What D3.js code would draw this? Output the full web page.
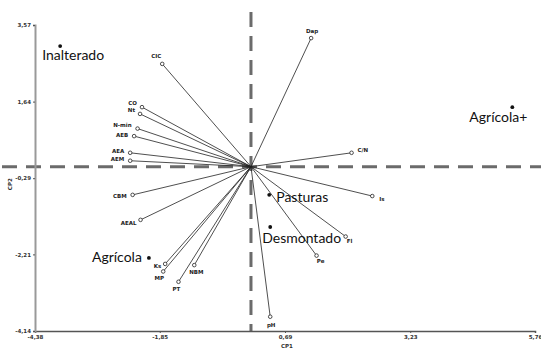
<!DOCTYPE html>
<html>
<head>
<meta charset="utf-8">
<script src="https://cdn.jsdelivr.net/npm/d3@7"></script>
<style>
  html, body { margin: 0; padding: 0; background: #fff; }
  svg { display: block; }
</style>
</head>
<body>
<svg id="chart" width="541" height="350"></svg>
<script>
// Biplot: soil variables (vectors) and land-use groups (scores) on CP1 x CP2.
const xTicks = [-4.38, -1.85, 0.69, 3.23, 5.76];
const yTicks = [-4.14, -2.21, -0.29, 1.64, 3.57];

// Variable loadings (vector tips)
const varNames = ["Dap", "CIC", "CO", "Nt", "N-min", "AEB", "AEA", "AEM", "C/N", "Is",
                  "CBM", "AEAL", "Ks", "MP", "PT", "NBM", "Fl", "Pe", "pH"];
const varCP1 = [1.22, -1.80, -2.21, -2.25, -2.30, -2.37, -2.45, -2.45, 2.04, 2.46,
                -2.40, -2.24, -1.74, -1.78, -1.47, -1.15, 1.92, 1.33, 0.39];
const varCP2 = [3.24, 2.59, 1.50, 1.33, 0.96, 0.77, 0.35, 0.15, 0.35, -0.74,
                -0.71, -1.34, -2.45, -2.64, -2.90, -2.48, -1.76, -2.24, -3.78];

// Group scores
const groupNames = ["Inalterado", "Agrícola+", "Pasturas", "Desmontado", "Agrícola"];
const groupCP1 = [-3.87, 5.30, 0.37, 0.39, -2.07];
const groupCP2 = [3.04, 1.50, -0.71, -1.52, -2.30];

// Label placement around each mark: [dx, dy, anchor]
const varLabelPos = {
  "Dap": [1, -7, "middle"], "CIC": [-6, -7, "middle"], "CO": [-5, -4, "end"],
  "Nt": [-5, -3, "end"], "N-min": [-6, -3, "end"], "AEB": [-6, -1, "end"],
  "AEA": [-6, -1, "end"], "AEM": [-6, -1, "end"], "C/N": [6, -2, "start"],
  "Is": [7, 3, "start"], "CBM": [-6, 2, "end"], "AEAL": [-4, 4, "end"],
  "Ks": [-4, 3, "end"], "MP": [-4, 7, "middle"], "PT": [-2, 8, "middle"],
  "NBM": [2, 7, "middle"], "Fl": [4, 5, "middle"], "Pe": [4, 6, "middle"],
  "pH": [1, 9, "middle"]
};
const groupLabelPos = {
  "Inalterado": [-18, 10, "start"], "Agrícola+": [-43, 11, "start"],
  "Pasturas": [7, 4, "start"], "Desmontado": [-8, 12, "start"],
  "Agrícola": [-7, 0, "end"]
};

const svg = d3.select("#chart");
const x = d3.scaleLinear().domain([-4.38, 5.76]).range([35, 535]);
const y = d3.scaleLinear().domain([-4.14, 3.57]).range([331, 25]);
const fmt = d => d.toFixed(2).replace(".", ",");

// Reference lines through the origin
svg.append("line")
  .attr("x1", 2).attr("x2", 541).attr("y1", y(0)).attr("y2", y(0))
  .attr("stroke", "#6b6b6b").attr("stroke-width", 3).attr("stroke-dasharray", "15,9");
svg.append("line")
  .attr("x1", x(0)).attr("x2", x(0)).attr("y1", 12).attr("y2", y(-4.14))
  .attr("stroke", "#6b6b6b").attr("stroke-width", 3).attr("stroke-dasharray", "15,9");

// Axes
const xAxis = svg.append("g").attr("transform", `translate(0,${y(-4.14)})`)
  .call(d3.axisBottom(x).tickValues(xTicks).tickFormat(fmt).tickSize(2).tickPadding(2));
const yAxis = svg.append("g").attr("transform", `translate(${x(-4.38)},0)`)
  .call(d3.axisLeft(y).tickValues(yTicks).tickFormat(fmt).tickSize(2).tickPadding(2));
xAxis.select(".domain").attr("stroke", "#555").attr("stroke-width", 1.5);
yAxis.select(".domain").attr("stroke", "#999").attr("stroke-width", 2);
svg.selectAll(".tick line").attr("stroke", "#555");
svg.selectAll(".tick text")
  .attr("font-family", "DejaVu Sans").attr("font-size", 5.5)
  .attr("font-weight", "bold").attr("fill", "#333");

svg.append("text").attr("x", 287).attr("y", 348)
  .attr("text-anchor", "middle").attr("font-family", "DejaVu Sans")
  .attr("font-size", 5.5).attr("font-weight", "bold").attr("fill", "#333").text("CP1");
svg.append("text").attr("transform", `translate(12,${y(-0.29) + 6}) rotate(-90)`)
  .attr("text-anchor", "middle").attr("font-family", "DejaVu Sans")
  .attr("font-size", 5.5).attr("font-weight", "bold").attr("fill", "#333").text("CP2");

// Variable vectors
const vars = varNames.map((n, i) => ({ name: n, cp1: varCP1[i], cp2: varCP2[i] }));
const vg = svg.append("g");
vg.selectAll("line.vec").data(vars).enter().append("line")
  .attr("class", "vec")
  .attr("x1", x(0)).attr("y1", y(0))
  .attr("x2", d => x(d.cp1)).attr("y2", d => y(d.cp2))
  .attr("stroke", "#222").attr("stroke-width", 0.8);
vg.selectAll("circle.tip").data(vars).enter().append("circle")
  .attr("class", "tip")
  .attr("cx", d => x(d.cp1)).attr("cy", d => y(d.cp2)).attr("r", 1.8)
  .attr("fill", "#fff").attr("stroke", "#222").attr("stroke-width", 0.8);
vg.selectAll("text.vlab").data(vars).enter().append("text")
  .attr("class", "vlab")
  .attr("x", d => x(d.cp1) + varLabelPos[d.name][0])
  .attr("y", d => y(d.cp2) + varLabelPos[d.name][1])
  .attr("text-anchor", d => varLabelPos[d.name][2])
  .attr("dominant-baseline", "middle")
  .attr("font-family", "DejaVu Sans").attr("font-size", 5.5)
  .attr("font-weight", "bold").attr("fill", "#222")
  .text(d => d.name);

// Group scores
const groups = groupNames.map((n, i) => ({ name: n, cp1: groupCP1[i], cp2: groupCP2[i] }));
const gg = svg.append("g");
gg.selectAll("circle").data(groups).enter().append("circle")
  .attr("cx", d => x(d.cp1)).attr("cy", d => y(d.cp2)).attr("r", 1.9)
  .attr("fill", "#111");
gg.selectAll("text").data(groups).enter().append("text")
  .attr("x", d => x(d.cp1) + groupLabelPos[d.name][0])
  .attr("y", d => y(d.cp2) + groupLabelPos[d.name][1])
  .attr("text-anchor", d => groupLabelPos[d.name][2])
  .attr("dominant-baseline", "middle")
  .attr("font-family", "Lato").attr("font-size", 14)
  .attr("fill", "#111")
  .text(d => d.name);
</script>
</body>
</html>
